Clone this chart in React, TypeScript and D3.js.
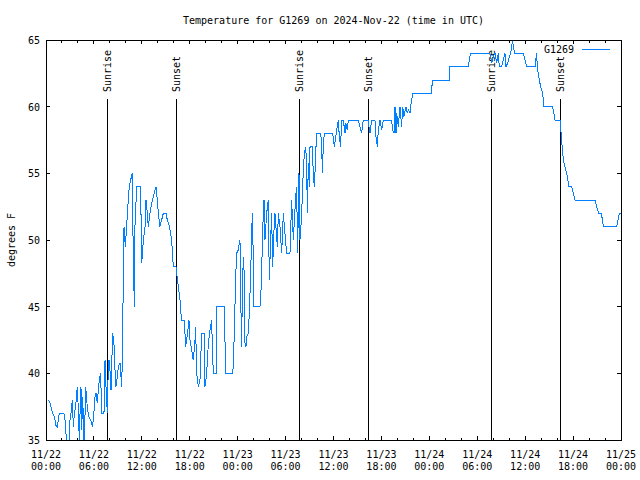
import React, { useEffect } from 'react';
import * as d3 from 'd3';

// hours since 2024-11-22 00:00 UTC, and temperature (F)
const tempHours = [
  0.29, 0.5, 0.79, 1.04, 1.25, 1.42, 1.59, 1.67, 2.25, 2.38, 2.5, 2.59, 2.88, 3.0, 3.13, 3.3, 3.42, 3.55, 3.71, 3.84,
  3.92, 4.05, 4.17, 4.26, 4.38, 4.47, 4.59, 4.76, 4.88, 4.97, 5.09, 5.22, 5.38, 5.59, 5.8, 5.93, 6.14, 6.26, 6.43, 6.55,
  6.68, 6.84, 6.97, 7.26, 7.39, 7.51, 7.68, 7.8, 7.89, 8.01, 8.14, 8.22, 8.35, 8.51, 8.64, 8.76, 8.93, 9.06, 9.27, 9.39,
  9.47, 9.6, 9.68, 9.77, 9.93, 10.1, 10.23, 10.43, 10.6, 10.8, 10.9, 11.06, 11.14, 11.35, 11.85, 11.98, 12.19, 12.4, 12.52, 12.69,
  12.81, 13.02, 13.23, 13.44, 13.65, 13.77, 13.94, 14.07, 14.27, 14.48, 14.69, 15.03, 15.19, 15.36, 15.53, 15.73, 15.94, 16.28, 16.36, 16.57,
  16.78, 16.9, 16.99, 17.28, 17.4, 17.49, 17.61, 17.82, 17.9, 18.03, 18.24, 18.36, 18.45, 18.66, 18.74, 18.86, 19.07, 19.28, 19.49, 19.82,
  19.91, 20.12, 20.33, 20.53, 20.74, 20.83, 20.95, 21.29, 21.37, 22.33, 22.41, 22.5, 23.33, 23.46, 23.54, 23.66, 23.79, 23.87, 24.08, 24.2,
  24.29, 24.37, 24.5, 24.58, 24.71, 24.79, 24.92, 25.04, 25.13, 25.33, 25.46, 25.63, 25.75, 25.84, 25.96, 26.04, 26.79, 26.88, 27.0, 27.13,
  27.3, 27.42, 27.63, 27.84, 27.96, 28.25, 28.38, 28.55, 28.67, 28.97, 29.09, 29.3, 29.51, 29.72, 29.92, 30.13, 30.55, 30.76, 30.97, 31.26,
  31.39, 31.5, 31.68, 31.8, 32.0, 32.22, 32.35, 32.51, 32.64, 32.72, 32.85, 32.97, 33.06, 33.35, 33.47, 33.6, 33.68, 33.81, 33.89, 34.39,
  34.52, 34.6, 34.72, 34.85, 35.85, 35.98, 36.1, 36.23, 36.39, 36.6, 36.73, 36.89, 37.02, 37.23, 37.44, 37.56, 37.73, 37.85, 39.11, 39.32,
  39.52, 39.73, 40.36, 40.49, 40.57, 40.78, 41.19, 41.32, 41.49, 41.61, 41.82, 42.03, 42.24, 43.28, 43.41, 43.58, 43.7, 43.83, 43.91, 44.12,
  44.32, 44.53, 44.66, 44.82, 45.07, 45.24, 45.37, 45.58, 45.66, 45.79, 45.91, 48.29, 48.37, 50.5, 50.58, 52.88, 53.0, 53.17, 55.59, 55.68,
  55.8, 56.01, 56.22, 56.43, 56.64, 56.76, 57.05, 57.26, 57.47, 57.6, 57.8, 58.01, 58.18, 58.31, 58.43, 58.51, 58.72, 59.77, 59.97, 60.18,
  61.23, 61.44, 61.52, 61.64, 61.77, 61.94, 62.19, 62.35, 63.44, 63.52, 63.73, 64.36, 64.44, 64.57, 64.69, 64.86, 65.07, 65.28, 65.48, 65.82,
  66.03, 66.24, 68.74, 68.95, 69.24, 69.49, 69.7, 69.78, 71.45, 71.66, 71.78, 72.0,
];
const tempValues = [
  38, 37.75, 37.1, 36.75, 36.1, 36, 36.75, 37, 37, 36.5, 35.5, 35, 35, 36.5, 37, 38, 36, 37, 37.5, 38.5,
  39, 37.25, 35, 37, 39, 35.75, 38.25, 35, 36.75, 39, 38, 37.25, 36.75, 36.5, 36, 36.5, 38.25, 38.5, 37.75, 38.75,
  39.5, 40, 37, 37, 41, 39, 37, 40.5, 41, 40.25, 38.75, 40.5, 43, 42.25, 40.25, 39, 39.75, 40.5, 40.75, 39.75,
  39, 42, 48, 51, 49.5, 51, 52.4, 54, 54.5, 55, 50, 45, 51, 54, 54, 48.25, 50, 51, 53, 52,
  51, 52, 52.75, 53.25, 53.75, 54, 53, 52, 51, 51.5, 52, 52, 51.5, 51.25, 50.75, 50, 48, 48, 47.5, 46.5,
  45.5, 44.5, 44, 44, 43, 42, 42.5, 43.5, 44, 42.5, 41.75, 41.25, 41, 42.5, 43.5, 40, 39, 39.5, 43, 43,
  39, 40, 42.25, 43.25, 44, 42, 40, 40, 45, 45, 42.5, 40, 40, 40.5, 42.25, 45, 47.75, 49, 49.25, 49.75,
  50, 46, 42, 46, 48.75, 48, 42.25, 42, 42.75, 43, 44.5, 47.5, 50.5, 52, 48.5, 45, 45, 45.5, 47.5, 50.75,
  53, 50, 52, 53, 47, 52, 48, 50.75, 52, 49.5, 52, 51, 49, 52, 50.5, 49, 49, 53, 50, 53.25,
  54, 49, 55, 50, 51.75, 55.25, 56.5, 57, 55.75, 52, 55.75, 54, 57, 57, 55, 54, 55, 57, 58, 58,
  57.25, 55, 57, 58, 58, 57.75, 57, 57.5, 58.25, 59, 57.75, 57, 59, 59, 58, 58.75, 58.25, 59, 59, 58.5,
  58, 59, 59, 58.25, 58, 59, 59, 57.75, 57, 58.25, 59, 58.25, 59, 59, 58.25, 58, 60, 58, 59.5, 58.5,
  60, 58.5, 60, 59.25, 60, 59.5, 59.75, 59.5, 60, 60.5, 61, 61, 62, 62, 63, 63, 63.5, 64, 64, 63.75,
  63.25, 63.75, 64, 63.25, 64, 63, 63, 63.5, 64, 63, 63.25, 63.75, 64, 64.5, 65, 64.5, 64, 64, 63.5, 63,
  63, 64, 63, 62.5, 62, 61.5, 61, 60, 60, 59.75, 59, 59, 58.5, 57.5, 56.5, 55.75, 55.25, 54.75, 54, 54,
  53.5, 53, 53, 52.5, 52, 52, 51.5, 51, 51, 51.6, 52, 52,
];

const sunHours = [7.72, 16.36, 31.72, 40.36, 55.76, 64.4];
const sunLabels = ['Sunrise', 'Sunset', 'Sunrise', 'Sunset', 'Sunrise', 'Sunset'];
const yTicks = [35, 40, 45, 50, 55, 60, 65];

const title = 'Temperature for G1269 on 2024-Nov-22 (time in UTC)';
const seriesName = 'G1269';
const yLabel = 'degrees F';

const base = Date.UTC(2024, 10, 22);
const toDate = (h: number) => new Date(base + h * 3600 * 1000);

const W = 640;
const H = 480;
const margin = { left: 46, right: 19, top: 40, bottom: 40 };
const font = '"DejaVu Sans Mono", monospace';
const lineColor = '#0080ff';

export default function App() {
  useEffect(() => {
    document.body.style.margin = '0';
  }, []);

  const x = d3.scaleUtc()
    .domain([toDate(0), toDate(72)])
    .range([margin.left, W - margin.right]);
  const y = d3.scaleLinear()
    .domain([35, 65])
    .range([H - margin.bottom, margin.top]);

  const majorTicks = d3.utcHour.every(6)!.range(toDate(0), toDate(72.01));
  const minorTicks = d3.utcHour.every(2)!.range(toDate(0), toDate(72.01));
  const fmtDay = d3.utcFormat('%m/%d');
  const fmtTime = d3.utcFormat('%H:%M');

  const points = tempHours.map((h, i) => ({ t: toDate(h), v: tempValues[i] }));
  const line = d3.line<{ t: Date; v: number }>()
    .x(d => x(d.t))
    .y(d => y(d.v));

  const [x0, x1] = x.range();
  const [yb, yt] = y.range();

  return (
    <svg width={W} height={H} style={{ display: 'block', background: '#fff' }} fontFamily={font} fontSize={10}>
      <defs>
        <clipPath id="plot-clip">
          <rect x={x0} y={yt} width={x1 - x0} height={yb - yt + 1} />
        </clipPath>
      </defs>

      <text x={(x0 + x1) / 2} y={24} textAnchor="middle" fill="#000">{title}</text>

      {/* y ticks, mirrored on right */}
      {yTicks.map(t => (
        <g key={t} shapeRendering="crispEdges" stroke="#000">
          <line x1={x0} x2={x0 + 4} y1={y(t)} y2={y(t)} />
          <line x1={x1} x2={x1 - 4} y1={y(t)} y2={y(t)} />
        </g>
      ))}
      {yTicks.map(t => (
        <text key={'l' + t} x={40} y={y(t) + 4} textAnchor="end" fill="#000">{t}</text>
      ))}

      {/* x ticks, mirrored on top */}
      {minorTicks.map(d => (
        <g key={'m' + d.getTime()} shapeRendering="crispEdges" stroke="#000">
          <line x1={x(d)} x2={x(d)} y1={yb} y2={yb - 2.5} />
          <line x1={x(d)} x2={x(d)} y1={yt} y2={yt + 2.5} />
        </g>
      ))}
      {majorTicks.map(d => (
        <g key={'M' + d.getTime()}>
          <g shapeRendering="crispEdges" stroke="#000">
            <line x1={x(d)} x2={x(d)} y1={yb} y2={yb - 4} />
            <line x1={x(d)} x2={x(d)} y1={yt} y2={yt + 4} />
          </g>
          <text x={x(d)} y={458} textAnchor="middle" fill="#000">{fmtDay(d)}</text>
          <text x={x(d)} y={470} textAnchor="middle" fill="#000">{fmtTime(d)}</text>
        </g>
      ))}

      <text transform={`translate(15,${(yb + yt) / 2}) rotate(-90)`} textAnchor="middle" fill="#000">{yLabel}</text>

      {/* sunrise / sunset markers */}
      {sunHours.map((h, i) => {
        const sx = Math.floor(x(toDate(h))) + 0.5;
        return (
          <g key={'s' + i}>
            <line x1={sx} x2={sx} y1={99} y2={yb} stroke="#000" shapeRendering="crispEdges" />
            <text transform={`translate(${sx + 3.5},92) rotate(-90)`} textAnchor="start" fill="#000">{sunLabels[i]}</text>
          </g>
        );
      })}

      <path
        d={line(points) ?? ''}
        fill="none"
        stroke={lineColor}
        strokeWidth={1}
        clipPath="url(#plot-clip)"
        shapeRendering="crispEdges"
      />

      {/* legend */}
      <text x={574} y={53} textAnchor="end" fill="#000">{seriesName}</text>
      <line x1={582} x2={610} y1={49.5} y2={49.5} stroke={lineColor} shapeRendering="crispEdges" />

      {/* border */}
      <rect x={x0} y={yt} width={x1 - x0} height={yb - yt} fill="none" stroke="#000" shapeRendering="crispEdges" />
    </svg>
  );
}
